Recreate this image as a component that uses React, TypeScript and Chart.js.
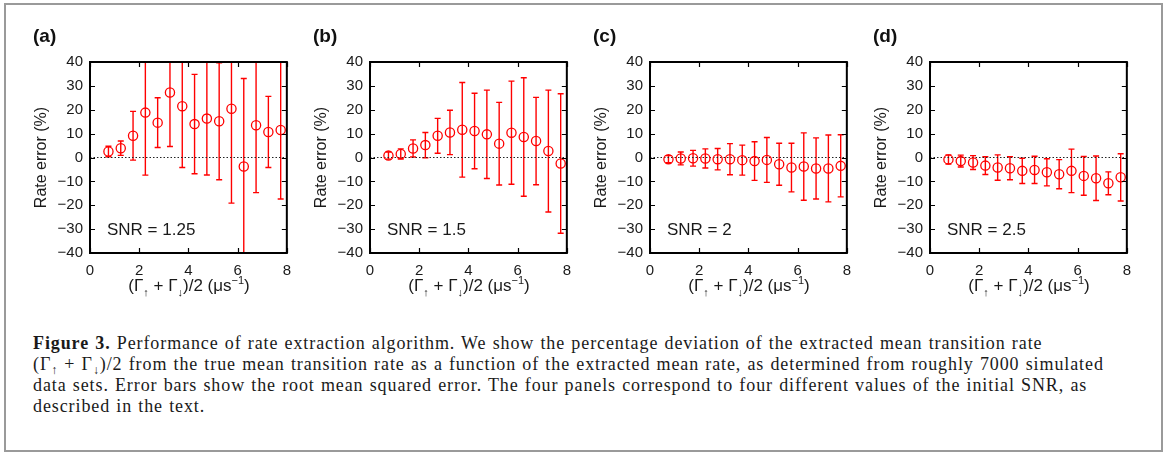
import React, { useEffect, useRef } from 'react';
import { Chart, registerables } from 'chart.js';

Chart.register(...registerables);

// ---------------- data ----------------
const rates = [0.75, 1.25, 1.75, 2.25, 2.75, 3.25, 3.75, 4.25, 4.75, 5.25, 5.75, 6.25, 6.75, 7.25, 7.75];
const xTickValues = [0, 2, 4, 6, 8];
const yTickValues = [-40, -30, -20, -10, 0, 10, 20, 30, 40];
const panelLabels = ['(a)', '(b)', '(c)', '(d)'];
const snrLabels = ['SNR = 1.25', 'SNR = 1.5', 'SNR = 2', 'SNR = 2.5'];

const errorA = [2.5, 3.9, 9.1, 18.8, 14.6, 27.2, 21.5, 14.0, 16.3, 15.2, 20.4, -3.8, 13.5, 10.7, 11.5];
const rmsA = [2.2, 3.0, 10.2, 26.2, 10.4, 22.6, 25.7, 20.8, 23.6, 24.5, 39.5, 36.9, 28.2, 14.9, 28.9];

const errorB = [0.8, 1.5, 3.8, 5.2, 9.1, 10.5, 11.6, 11.1, 9.7, 5.8, 10.4, 8.6, 6.9, 2.7, -2.5];
const rmsB = [1.5, 2.1, 3.6, 5.3, 7.3, 9.3, 19.8, 15.8, 18.5, 17.3, 21.6, 24.8, 18.3, 25.5, 29.2];

const errorC = [-0.7, -0.4, -0.3, -0.4, -0.7, -0.7, -1.1, -1.5, -1.0, -2.8, -4.2, -3.8, -4.6, -4.6, -3.5];
const rmsC = [1.5, 2.7, 3.3, 4.0, 4.5, 6.5, 6.3, 8.1, 9.4, 8.8, 10.2, 14.1, 12.8, 14.0, 13.0];

const errorD = [-0.8, -1.5, -2.1, -3.4, -4.2, -4.5, -5.6, -5.2, -6.2, -7.0, -5.6, -7.7, -8.7, -10.8, -8.3];
const rmsD = [1.9, 2.5, 2.9, 3.7, 5.3, 4.8, 5.3, 5.7, 5.7, 6.1, 9.1, 8.1, 9.3, 4.8, 9.9];

const panelValues = [errorA, errorB, errorC, errorD];
const panelRms = [rmsA, rmsB, rmsC, rmsD];

const captionLines = [
  'Performance of rate extraction algorithm. We show the percentage deviation of the extracted mean transition rate',
  'from the true mean transition rate as a function of the extracted mean rate, as determined from roughly 7000 simulated',
  'data sets. Error bars show the root mean squared error. The four panels correspond to four different values of the initial SNR, as',
  'described in the text.',
];

// ---------------- styling constants ----------------
const RED = '#ff0000';
const SANS = '"Liberation Sans", Arial, sans-serif';
const SERIF = '"Liberation Serif", "Times New Roman", serif';
const PANEL_STEP = 280;
const CANVAS_LEFT0 = 20;
const CANVAS_TOP = 20;
const CANVAS_W = 280;
const CANVAS_H = 280;

const fmtTick = (v: number) => (v < 0 ? '\u2212' + Math.abs(v) : String(v));

const framePlugin = {
  id: 'frameAndErrors',
  beforeDatasetsDraw(chart: any) {
    const { ctx, chartArea, scales } = chart;
    const ds = chart.data.datasets.find((d: any) => d.rms);
    if (!ds) return;
    const xs = scales.x;
    const ys = scales.y;
    ctx.save();
    ctx.beginPath();
    ctx.rect(chartArea.left, chartArea.top, chartArea.right - chartArea.left, chartArea.bottom - chartArea.top);
    ctx.clip();
    ctx.strokeStyle = RED;
    ctx.lineWidth = 1.4;
    ds.data.forEach((p: any, i: number) => {
      const e = ds.rms[i];
      const x = xs.getPixelForValue(p.x);
      const yTop = ys.getPixelForValue(p.y + e);
      const yBot = ys.getPixelForValue(p.y - e);
      ctx.beginPath();
      ctx.moveTo(x, yTop);
      ctx.lineTo(x, yBot);
      ctx.moveTo(x - 3, yTop);
      ctx.lineTo(x + 3, yTop);
      ctx.moveTo(x - 3, yBot);
      ctx.lineTo(x + 3, yBot);
      ctx.stroke();
    });
    ctx.restore();
  },
  afterDraw(chart: any) {
    const { ctx, chartArea, scales } = chart;
    const { left, right, top, bottom } = chartArea;
    ctx.save();
    ctx.strokeStyle = '#000';
    ctx.lineWidth = 2;
    ctx.strokeRect(left, top, right - left, bottom - top);
    ctx.lineWidth = 1.2;
    ctx.beginPath();
    scales.x.ticks.forEach((t: any) => {
      const x = Math.round(scales.x.getPixelForValue(t.value)) + 0.5;
      ctx.moveTo(x, bottom);
      ctx.lineTo(x, bottom - 5);
      ctx.moveTo(x, top);
      ctx.lineTo(x, top + 5);
    });
    scales.y.ticks.forEach((t: any) => {
      const y = Math.round(scales.y.getPixelForValue(t.value)) + 0.5;
      ctx.moveTo(left, y);
      ctx.lineTo(left + 5, y);
      ctx.moveTo(right, y);
      ctx.lineTo(right - 5, y);
    });
    ctx.stroke();
    ctx.restore();
  },
};

function Panel({ index }: { index: number }) {
  const ref = useRef<HTMLCanvasElement | null>(null);
  useEffect(() => {
    if (!ref.current) return;
    const values = panelValues[index];
    const rms = panelRms[index];
    const chart = new Chart(ref.current, {
      type: 'scatter',
      data: {
        datasets: [
          {
            type: 'scatter',
            data: rates.map((x, i) => ({ x, y: values[i] })),
            rms,
            pointStyle: 'circle',
            pointRadius: 4.6,
            pointBorderWidth: 1.3,
            borderColor: RED,
            backgroundColor: 'rgba(0,0,0,0)',
            pointBackgroundColor: 'rgba(0,0,0,0)',
            pointBorderColor: RED,
            order: 1,
          } as any,
          {
            type: 'line',
            data: [
              { x: xTickValues[0], y: 0 },
              { x: xTickValues[xTickValues.length - 1], y: 0 },
            ],
            borderColor: '#222',
            borderWidth: 1,
            borderDash: [1.5, 2],
            pointRadius: 0,
            fill: false,
            order: 2,
          } as any,
        ],
      },
      options: {
        animation: false,
        responsive: false,
        events: [],
        layout: { autoPadding: false, padding: { left: 0, right: 12, top: 42, bottom: 0 } },
        plugins: { legend: { display: false }, tooltip: { enabled: false }, title: { display: false } },
        scales: {
          x: {
            type: 'linear',
            min: 0,
            max: 8,
            grid: { display: false, drawTicks: false },
            border: { display: false },
            afterBuildTicks: (s: any) => {
              s.ticks = xTickValues.map((v) => ({ value: v }));
            },
            afterFit: (s: any) => {
              s.height = 47;
            },
            ticks: {
              padding: 9,
              color: '#1a1a1a',
              font: { family: SANS, size: 15 },
              callback: (v: any) => fmtTick(Number(v)),
              maxRotation: 0,
            },
          },
          y: {
            type: 'linear',
            min: -40,
            max: 40,
            grid: { display: false, drawTicks: false },
            border: { display: false },
            afterBuildTicks: (s: any) => {
              s.ticks = yTickValues.map((v) => ({ value: v }));
            },
            afterFit: (s: any) => {
              s.width = 70;
            },
            ticks: {
              padding: 7,
              color: '#1a1a1a',
              font: { family: SANS, size: 15 },
              callback: (v: any) => fmtTick(Number(v)),
            },
            title: {
              display: true,
              text: 'Rate error (%)',
              color: '#1a1a1a',
              font: { family: SANS, size: 16 },
              padding: { top: 12, bottom: 0 },
            },
          },
        },
      } as any,
      plugins: [framePlugin],
    });
    return () => chart.destroy();
  }, [index]);

  const left = CANVAS_LEFT0 + PANEL_STEP * index;
  const plotCenterX = left + 70 + 99;
  return (
    <>
      <canvas
        ref={ref}
        width={CANVAS_W}
        height={CANVAS_H}
        style={{ position: 'absolute', left, top: CANVAS_TOP, width: CANVAS_W, height: CANVAS_H }}
      />
      <div
        style={{
          position: 'absolute',
          left: left + 13,
          top: 26,
          font: `bold 19px ${SANS}`,
          lineHeight: '20px',
          color: '#111',
          whiteSpace: 'nowrap',
        }}
      >
        {panelLabels[index]}
      </div>
      <div
        style={{
          position: 'absolute',
          left: left + 87,
          top: 220,
          font: `17px ${SANS}`,
          lineHeight: '20px',
          color: '#1a1a1a',
          whiteSpace: 'nowrap',
        }}
      >
        {snrLabels[index]}
      </div>
      <div
        style={{
          position: 'absolute',
          left: plotCenterX - 100,
          width: 200,
          textAlign: 'center',
          top: 276,
          font: `17px ${SANS}`,
          lineHeight: '20px',
          color: '#1a1a1a',
          whiteSpace: 'nowrap',
        }}
      >
        (Γ<span style={{ position: 'relative', top: 5, fontSize: 11 }}>↑</span> + Γ
        <span style={{ position: 'relative', top: 5, fontSize: 11 }}>↓</span>)/2 (μs
        <span style={{ position: 'relative', top: -7, fontSize: 11 }}>−1</span>)
      </div>
    </>
  );
}

export default function App() {
  const lineStyle: React.CSSProperties = {
    position: 'absolute',
    left: 33,
    font: `18px ${SERIF}`,
    lineHeight: '21px',
    letterSpacing: '0.9px',
    wordSpacing: '0.8px',
    color: '#1a1a1a',
    whiteSpace: 'nowrap',
  };
  return (
    <div style={{ position: 'absolute', left: 0, top: 0, width: 1165, height: 452, background: '#fff', overflow: 'hidden' }}>
      <div
        style={{
          position: 'absolute',
          left: 4,
          top: 3,
          width: 1155,
          height: 445,
          border: '2px solid #9a9a9a',
        }}
      />
      {[0, 1, 2, 3].map((i) => (
        <Panel key={i} index={i} />
      ))}
      <div style={{ ...lineStyle, top: 333 }}>
        <b>Figure 3.</b> {captionLines[0]}
      </div>
      <div style={{ ...lineStyle, top: 354 }}>
        (Γ<span style={{ position: 'relative', top: 4, fontSize: 12 }}>↑</span> + Γ
        <span style={{ position: 'relative', top: 4, fontSize: 12 }}>↓</span>)/2 {captionLines[1]}
      </div>
      <div style={{ ...lineStyle, top: 375 }}>{captionLines[2]}</div>
      <div style={{ ...lineStyle, top: 396 }}>{captionLines[3]}</div>
    </div>
  );
}
